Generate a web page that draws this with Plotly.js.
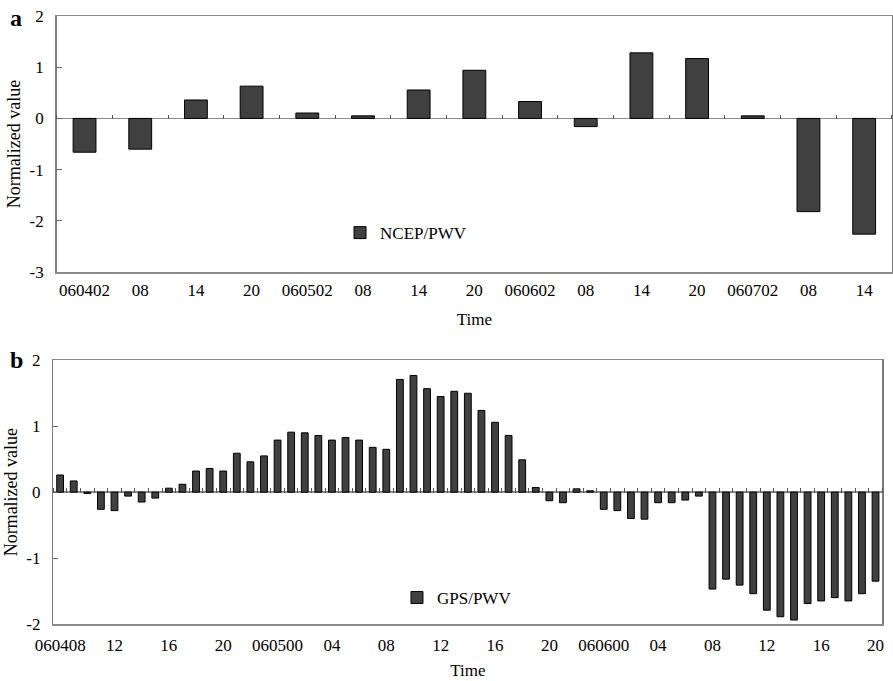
<!DOCTYPE html>
<html>
<head>
<meta charset="utf-8">
<script src="https://cdn.plot.ly/plotly-3.0.1.min.js"></script>
<style>html,body{margin:0;padding:0;background:#fff;}#chart{width:893px;height:681px;}</style>
</head>
<body>
<div id="chart"></div>
<script>
// Panel a: NCEP/PWV
const catsA = ['060402','08','14','20','060502','08','14','20','060602','08','14','20','060702','08','14'];
const valsA = [-0.66,-0.60,0.36,0.63,0.105,0.05,0.555,0.94,0.33,-0.16,1.28,1.17,0.05,-1.82,-2.26];
const yTicksA = [-3,-2,-1,0,1,2];
const yTextA = ['-3','-2','-1','0','1','2'];

// Panel b: GPS/PWV (hourly)
const labelsB = ['060408','12','16','20','060500','04','08','12','16','20','060600','04','08','12','16','20'];
const valsB = [0.26,0.17,-0.02,-0.26,-0.28,-0.06,-0.15,-0.09,0.06,0.12,
               0.32,0.36,0.32,0.59,0.46,0.55,0.79,0.91,0.90,0.86,
               0.79,0.83,0.79,0.68,0.65,1.71,1.77,1.57,1.45,1.53,
               1.50,1.24,1.06,0.86,0.49,0.07,-0.13,-0.16,0.05,0.02,
               -0.26,-0.28,-0.40,-0.41,-0.16,-0.16,-0.12,-0.06,-1.47,-1.32,
               -1.41,-1.54,-1.79,-1.89,-1.94,-1.69,-1.65,-1.60,-1.65,-1.54,
               -1.35];
const labelStepB = 4;
const yTicksB = [-2,-1,0,1,2];
const yTextB = ['-2','-1','0','1','2'];

const xA = catsA.map((c,i)=>i);
const xB = valsB.map((v,i)=>i);
const tickValsB = labelsB.map((l,i)=>i*labelStepB);
const boundA = []; for (let i=0;i<=catsA.length;i++) boundA.push(i-0.5);
const boundB = []; for (let i=0;i<=valsB.length;i++) boundB.push(i-0.5);

const FONT = '"Liberation Serif", "Times New Roman", serif';
const rangeA = [-3,2], rangeB = [-2,2];
const domA = [0.5789,1], domB = [0,0.4337];
const W = 893, H = 681, M = {l:53, r:0, t:16, b:57};
const plotH = H - M.t - M.b;
const zeroPos = (dom, r) => dom[0] + (0 - r[0])/(r[1]-r[0])*(dom[1]-dom[0]);
// tick axes sit just above the zero line, their ticks reach down to it
const tickLenA = 4, tickLenB = 5;

const barStyle = {color:'#404040', line:{color:'#000', width:1}};

const data = [
  {type:'bar', x:xA, y:valsA, name:'NCEP/PWV', xaxis:'x', yaxis:'y', width:0.41, marker:barStyle, legend:'legend'},
  {type:'bar', x:xB, y:valsB, name:'GPS/PWV', xaxis:'x2', yaxis:'y2', width:0.5, marker:barStyle, legend:'legend2'},
  // invisible helper traces so the zero-line tick axes are drawn
  {type:'scatter', mode:'markers', x:xA, y:valsA, xaxis:'x3', yaxis:'y', marker:{opacity:0}, showlegend:false, hoverinfo:'skip'},
  {type:'scatter', mode:'markers', x:xB, y:valsB, xaxis:'x4', yaxis:'y2', marker:{opacity:0}, showlegend:false, hoverinfo:'skip'}
];

const axisFont = {family:FONT, size:17, color:'#000'};
const titleFont = {family:FONT, size:18, color:'#000'};
const layout = {
  width:W, height:H,
  margin:M,
  paper_bgcolor:'#fff', plot_bgcolor:'#fff',
  font:{family:FONT, size:17, color:'#000'},
  showlegend:true,
  xaxis:{domain:[0.0044,0.9988], anchor:'y', range:[-0.5,catsA.length-0.5],
         tickmode:'array', tickvals:xA, ticktext:catsA, ticks:'', tickfont:axisFont,
         showline:true, mirror:true, linecolor:'#8a8a8a', linewidth:1.5, showgrid:false, zeroline:false,
         ticklabelstandoff:2,
         title:{text:'Time', font:axisFont, standoff:14}},
  yaxis:{domain:domA, anchor:'x', range:rangeA, tickmode:'array', tickvals:yTicksA, ticktext:yTextA, tickfont:axisFont,
         showline:true, mirror:true, linecolor:'#7a7a7a', linewidth:1.5, showgrid:false,
         ticks:'inside', ticklen:5, tickcolor:'#666', ticklabelstandoff:8,
         zeroline:true, zerolinecolor:'#8a8a8a', zerolinewidth:1.5,
         title:{text:'Normalized value', font:titleFont, standoff:4}},
  xaxis3:{overlaying:'x', anchor:'free', position:zeroPos(domA, rangeA) + tickLenA/plotH, side:'bottom', range:[-0.5,catsA.length-0.5],
          tickmode:'array', tickvals:boundA, ticks:'outside', ticklen:tickLenA, tickcolor:'#555', tickwidth:1,
          showticklabels:false, showline:false, showgrid:false, zeroline:false},
  xaxis2:{domain:[0.0004,0.9873], anchor:'y2', range:[-0.5,valsB.length-0.5],
         tickmode:'array', tickvals:tickValsB, ticktext:labelsB, ticks:'', tickfont:axisFont,
         showline:true, mirror:true, linecolor:'#8a8a8a', linewidth:1.5, showgrid:false, zeroline:false,
         ticklabelstandoff:5,
         title:{text:'Time', font:axisFont, standoff:10}},
  yaxis2:{domain:domB, anchor:'x2', range:rangeB, tickmode:'array', tickvals:yTicksB, ticktext:yTextB, tickfont:axisFont,
         showline:true, mirror:true, linecolor:'#7a7a7a', linewidth:1.5, showgrid:false,
         ticks:'inside', ticklen:5, tickcolor:'#666', ticklabelstandoff:8,
         zeroline:true, zerolinecolor:'#8a8a8a', zerolinewidth:1.5,
         title:{text:'Normalized value', font:titleFont, standoff:4}},
  xaxis4:{overlaying:'x2', anchor:'free', position:zeroPos(domB, rangeB) + tickLenB/plotH, side:'bottom', range:[-0.5,valsB.length-0.5],
          tickmode:'array', tickvals:boundB, ticks:'outside', ticklen:tickLenB, tickcolor:'#555', tickwidth:1,
          showticklabels:false, showline:false, showgrid:false, zeroline:false},
  legend:{x:0.3417, y:0.643, xanchor:'left', yanchor:'middle', bgcolor:'rgba(0,0,0,0)', font:axisFont},
  legend2:{x:0.4095, y:0.0428, xanchor:'left', yanchor:'middle', bgcolor:'rgba(0,0,0,0)', font:axisFont},
  annotations:[
    {text:'<b>a</b>', xref:'paper', yref:'paper', x:-0.044, y:0.9967, xanchor:'center', yanchor:'middle', showarrow:false, font:{family:FONT, size:24, color:'#000'}},
    {text:'<b>b</b>', xref:'paper', yref:'paper', x:-0.044, y:0.4337, xanchor:'center', yanchor:'middle', showarrow:false, font:{family:FONT, size:24, color:'#000'}}
  ]
};

Plotly.newPlot('chart', data, layout, {displayModeBar:false, staticPlot:true});
</script>
</body>
</html>
